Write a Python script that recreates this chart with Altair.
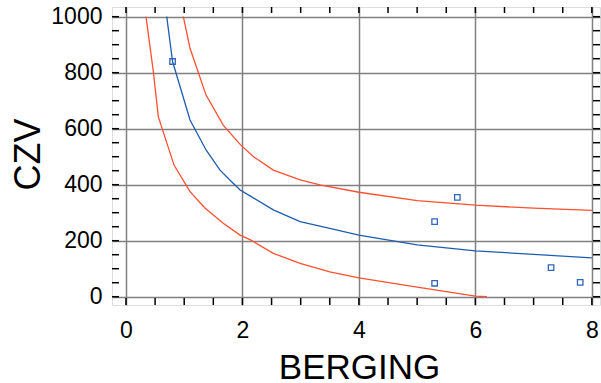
import altair as alt
import pandas as pd

# ---- data ----
fit_x = [0.70, 0.80, 1.10, 1.375, 1.615, 1.84, 1.96, 2.13, 2.53, 2.99, 3.5, 4.0, 5.0, 6.0, 7.0, 8.0]
fit_y = [1000, 840, 631, 524, 452, 405, 381, 360, 310, 268, 244, 220, 185, 164, 151, 139]

upper_x = [0.985, 1.10, 1.375, 1.67, 1.96, 2.19, 2.53, 2.99, 3.33, 4.0, 5.0, 6.0, 7.0, 8.0]
upper_y = [1000, 887, 720, 613, 544, 500, 452, 417, 399, 373, 343, 327, 316, 308]

lower_x = [0.344, 0.47, 0.555, 0.825, 1.10, 1.36, 1.67, 1.96, 2.13, 2.53, 2.99, 3.5, 4.0, 5.0, 5.5, 6.0, 6.2]
lower_y = [1000, 804, 643, 470, 375, 316, 262, 220, 204, 155, 119, 89, 67, 34, 18, 2, 0]

obs_x = [0.80, 5.30, 5.30, 5.69, 7.30, 7.80]
obs_y = [840, 268, 48, 355, 104, 51]

x_tick_labels = [0, 2, 4, 6, 8]
y_tick_labels = [0, 200, 400, 600, 800, 1000]
x_minor = [i * 0.5 for i in range(17)]
y_minor = [i * 50 for i in range(21)]

x_domain = [-0.24, 8.14]
y_domain = [-29.6, 1034.6]

# ---- tables ----
rows = []
for name, xs, ys in [("fit", fit_x, fit_y), ("upper", upper_x, upper_y), ("lower", lower_x, lower_y)]:
    for i, (a, b) in enumerate(zip(xs, ys)):
        rows.append({"series": name, "x": a, "y": b, "ord": i})
lines_df = pd.DataFrame(rows)
obs_df = pd.DataFrame({"x": obs_x, "y": obs_y})
xt_df = pd.DataFrame({"x": x_minor})
yt_df = pd.DataFrame({"y": y_minor})

W, H = 488, 298
xscale = alt.Scale(domain=x_domain, nice=False, zero=False)
yscale = alt.Scale(domain=y_domain, nice=False, zero=False)

grid_style = dict(grid=True, gridColor="#808080", gridWidth=1.5, gridOpacity=1, domain=False,
                  labelFont="Liberation Sans", titleFont="Liberation Sans",
                  labelColor="black", titleColor="black")

xaxis = alt.Axis(values=x_tick_labels, format="d", title="BERGING", titleFontSize=35,
                 titleFontWeight="normal", titleX=247, titleY=73, titleBaseline="alphabetic",
                 labelPadding=14, tickSize=0, labelFontSize=23, **grid_style)
yaxis = alt.Axis(values=y_tick_labels, format="d", title="CZV", titleFontSize=36,
                 titleFontWeight="normal", titleX=-73, titleY=147, titleBaseline="alphabetic",
                 titleAngle=-90, labelPadding=10, tickSize=0, labelFontSize=23, **grid_style)

lines = alt.Chart(lines_df).mark_line(strokeWidth=1.3, clip=True).encode(
    x=alt.X("x:Q", scale=xscale, axis=xaxis),
    y=alt.Y("y:Q", scale=yscale, axis=yaxis),
    color=alt.Color("series:N", scale=alt.Scale(domain=["fit", "upper", "lower"],
                                                 range=["#1f5cb0", "#ff5030", "#ff5030"]), legend=None),
    detail="series:N",
    order="ord:Q",
)

pts = alt.Chart(obs_df).mark_point(shape="square", size=30, filled=False, color="#2f66b8",
                                    strokeWidth=1.3, opacity=1).encode(
    x=alt.X("x:Q", scale=xscale),
    y=alt.Y("y:Q", scale=yscale),
)

tick_style = dict(color="black", strokeWidth=1.5)
bottom_ticks = alt.Chart(xt_df).mark_rule(**tick_style).encode(
    x=alt.X("x:Q", scale=xscale), y=alt.value(H), y2=alt.value(H - 7))
top_ticks = alt.Chart(xt_df).mark_rule(**tick_style).encode(
    x=alt.X("x:Q", scale=xscale), y=alt.value(0), y2=alt.value(6))
left_ticks = alt.Chart(yt_df).mark_rule(**tick_style).encode(
    y=alt.Y("y:Q", scale=yscale), x=alt.value(0), x2=alt.value(7))
right_ticks = alt.Chart(yt_df).mark_rule(**tick_style).encode(
    y=alt.Y("y:Q", scale=yscale), x=alt.value(W), x2=alt.value(W - 7))

chart = alt.layer(lines, pts, bottom_ticks, top_ticks, left_ticks, right_ticks).properties(
    width=W, height=H,
    autosize=alt.AutoSizeParams(type="none"),
    padding={"left": 112, "top": 7, "right": 1, "bottom": 78},
).configure_view(
    stroke="black", strokeWidth=2
).configure(background="white")

chart.save("out.html", embed_options={"renderer": "svg", "actions": False})
